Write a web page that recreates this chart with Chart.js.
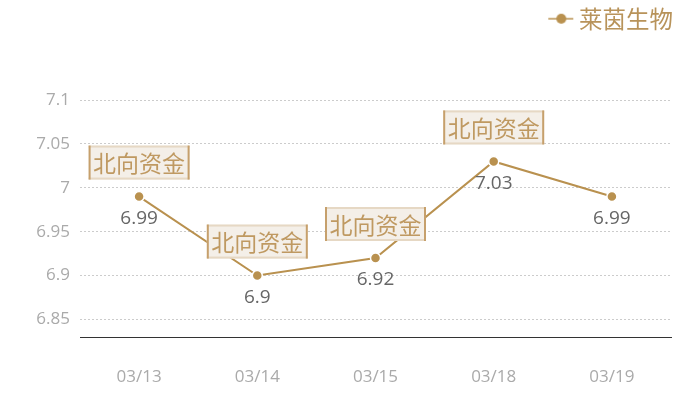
<!DOCTYPE html>
<html><head><meta charset="utf-8">
<script src="https://cdn.jsdelivr.net/npm/chart.js@4/dist/chart.umd.min.js"></script>
<style>html,body{margin:0;padding:0;background:#fff}#wrap{width:700px;height:400px}</style>
</head><body><div id="wrap"><canvas id="c" width="700" height="400"></canvas></div>
<script>
const categories = ['03/13','03/14','03/15','03/18','03/19'];
const seriesName = '莱茵生物';
const values = [6.99, 6.9, 6.92, 7.03, 6.99];
const annotations = ['北向资金','北向资金','北向资金','北向资金',''];
const yTicks = [6.85, 6.9, 6.95, 7, 7.05, 7.1];

const LINE = '#b9914f';
const FONT = '"Open Sans","Noto Sans CJK SC",sans-serif';
const CJK = '"Noto Sans CJK SC","Noto Sans",sans-serif';

// legend marker: line with dot (drawn toward the right part of the image to tighten the gap to the text)
const mk = document.createElement('canvas');
mk.width = 44; mk.height = 12;
(function(){const g=mk.getContext('2d');g.strokeStyle=LINE;g.lineWidth=1.5;g.beginPath();g.moveTo(17,6);g.lineTo(42,6);g.stroke();g.fillStyle=LINE;g.beginPath();g.arc(30,6,5,0,Math.PI*2);g.fill();})();

const legendHeight = {
  id:'legendHeight',
  beforeInit(chart){
    const f = chart.legend.fit;
    chart.legend.fit = function(){ f.bind(this)(); this.height = 93; };
  }
};

const labelsPlugin = {
  id:'labelsPlugin',
  afterDatasetsDraw(chart){
    const ctx = chart.ctx;
    const meta = chart.getDatasetMeta(0);
    ctx.save();
    meta.data.forEach((pt,i)=>{
      ctx.font = '19px ' + FONT;
      ctx.fillStyle = '#666';
      ctx.textAlign = 'center';
      ctx.textBaseline = 'middle';
      ctx.fillText(String(values[i]), pt.x, pt.y + 22);
      const a = annotations[i];
      if (a) {
        const w = 101, h = 34;
        const x0 = pt.x - w/2, y1 = pt.y - 17, y0 = y1 - h;
        ctx.fillStyle = '#f4efe8';
        ctx.fillRect(x0, y0, w, h);
        ctx.fillStyle = '#e6d8c4';
        ctx.fillRect(x0, y0, w, 2);
        ctx.fillRect(x0, y1-2, w, 2);
        ctx.fillStyle = '#c6a06c';
        ctx.fillRect(x0, y0, 2, h);
        ctx.fillRect(x0+w-2, y0, 2, h);
        ctx.font = '23px ' + CJK;
        ctx.fillStyle = '#bf9961';
        ctx.fillText(a, pt.x, y0 + h/2 + 1);
      }
    });
    ctx.restore();
  }
};

new Chart(document.getElementById('c'), {
  type:'line',
  data:{
    labels: categories,
    datasets:[{
      label: seriesName,
      data: values,
      borderColor: LINE,
      backgroundColor: LINE,
      borderWidth: 2,
      pointRadius: 5,
      pointBorderColor: '#fff',
      pointBorderWidth: 1.5,
      pointBackgroundColor: LINE,
      pointStyle: 'circle',
      tension: 0,
      fill: false
    }]
  },
  options:{
    responsive:false,
    animation:false,
    devicePixelRatio:1,
    layout:{padding:{left:0,right:27,top:7,bottom:0}},
    plugins:{
      legend:{
        position:'top',
        align:'end',
        labels:{
          usePointStyle:true,
          pointStyle: mk,
          pointStyleWidth: 28,
          boxHeight: 12,
          color:'#b8935a',
          font:{size:23.5,family:CJK},
          padding:0
        }
      },
      tooltip:{enabled:false}
    },
    scales:{
      x:{
        offset:true,
        grid:{display:false},
        border:{display:true,color:'#333',width:1},
        ticks:{color:'#aaa',font:{size:17,family:FONT},padding:22},
        afterFit(s){ s.height = 63; }
      },
      y:{
        min:6.83, max:7.1,
        afterBuildTicks(s){ s.ticks = yTicks.map(v=>({value:v})); },
        grid:{color:'#ccc',drawTicks:false,lineWidth:1},
        border:{display:false,dash:[2,2]},
        ticks:{color:'#aaa',font:{size:17,family:FONT},padding:10,callback:(v)=>String(v)},
        afterFit(s){ s.width = 80; }
      },
      yRightSpacer:{
        position:'right',
        min:0, max:1,
        grid:{display:false,drawOnChartArea:false},
        border:{display:false},
        ticks:{display:false},
        afterFit(s){ s.width = 2; }
      }
    }
  },
  plugins:[legendHeight, labelsPlugin]
});
</script></body></html>
